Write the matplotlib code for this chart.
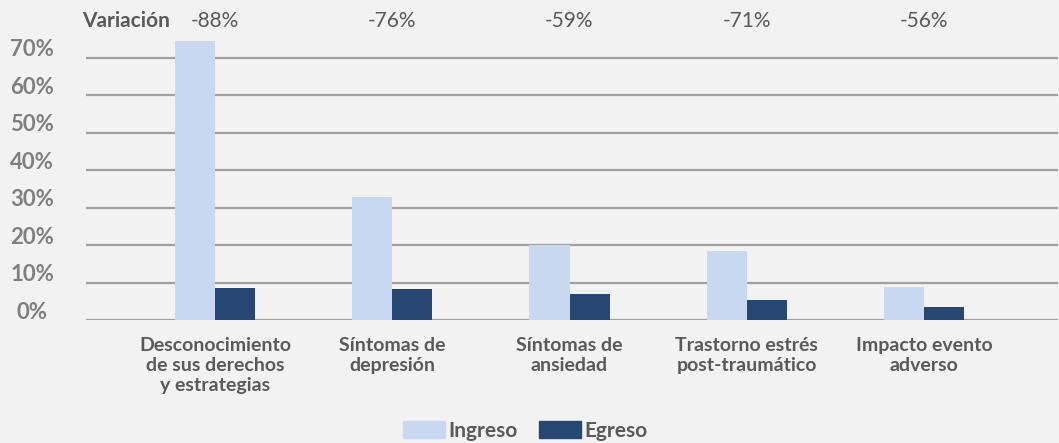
import matplotlib
matplotlib.use("Agg")
import matplotlib.pyplot as plt
import matplotlib.transforms as mtransforms
from matplotlib.patches import Patch
import numpy as np

plt.rcParams["font.family"] = ["Lato", "DejaVu Sans"]

categories = [
    "Desconocimiento\nde sus derechos\ny estrategias",
    "Síntomas de\ndepresión",
    "Síntomas de\nansiedad",
    "Trastorno estrés\npost-traumático",
    "Impacto evento\nadverso",
]
ingreso = [0.745, 0.329, 0.201, 0.185, 0.089]
egreso = [0.086, 0.083, 0.070, 0.054, 0.035]
variacion = ["-88%", "-76%", "-59%", "-71%", "-56%"]
yticks = [0, 0.1, 0.2, 0.3, 0.4, 0.5, 0.6, 0.7]
ytick_labels = ["0%", "10%", "20%", "30%", "40%", "50%", "60%", "70%"]

bg = "#f2f2f2"
c_in = "#c8d8f0"
c_eg = "#274773"
txt = "#595959"
tick_col = "#7f7f7f"

W, H = 1059, 443
fig = plt.figure(figsize=(W / 100, H / 100), dpi=100, facecolor=bg)
ax = fig.add_axes([86 / W, (H - 320.3) / H, 972 / W, 281.25 / H])
ax.set_facecolor(bg)

x = np.arange(len(categories))
w = 0.2257
ax.bar(x - w / 2, ingreso, w, color=c_in, zorder=3)
ax.bar(x + w / 2, egreso, w, color=c_eg, zorder=3)

ax.set_xlim((86 - 215) / 177.25, (1058 - 215) / 177.25)
ax.set_ylim(0, 0.75)

for yv in yticks:
    ax.axhline(yv, color="#a0a0a0", lw=1.6, zorder=1)

for s in ax.spines.values():
    s.set_visible(False)
ax.set_yticks([])
ax.set_xticks(x)
ax.set_xticklabels(categories, fontsize=14, fontweight="bold", color=txt,
                   linespacing=1.2)
ax.tick_params(axis="x", length=0, pad=12)

# y labels centred left of the axis, slightly above each gridline
ytr = mtransforms.offset_copy(
    mtransforms.blended_transform_factory(fig.transFigure, ax.transData),
    fig=fig, x=0, y=8, units="dots")
for yv, lab in zip(yticks, ytick_labels):
    fig.text(32 / W, yv, lab, transform=ytr, ha="center", va="center",
             fontsize=16, fontweight="bold", color=tick_col)

# variation row on top
ttr = mtransforms.blended_transform_factory(ax.transData, fig.transFigure)
for xi, v in zip(x, variacion):
    ax.text(xi, 1 - 21 / H, v, transform=ttr, ha="center", va="center",
            fontsize=15, color=txt, clip_on=False)
fig.text(126.5 / W, 1 - 21 / H, "Variación", ha="center", va="center",
         fontsize=15, fontweight="bold", color=txt)

handles = [Patch(color=c_in, label="Ingreso"), Patch(color=c_eg, label="Egreso")]
leg = fig.legend(handles=handles, loc="center", bbox_to_anchor=(525.5 / W, 12 / H),
                 ncol=2, frameon=False, handlelength=2.0, handleheight=0.9,
                 handletextpad=0.2, columnspacing=1.0,
                 prop={"size": 15, "weight": "bold"})
for t in leg.get_texts():
    t.set_color(txt)

fig.savefig("out.png", dpi=100, facecolor=bg)
